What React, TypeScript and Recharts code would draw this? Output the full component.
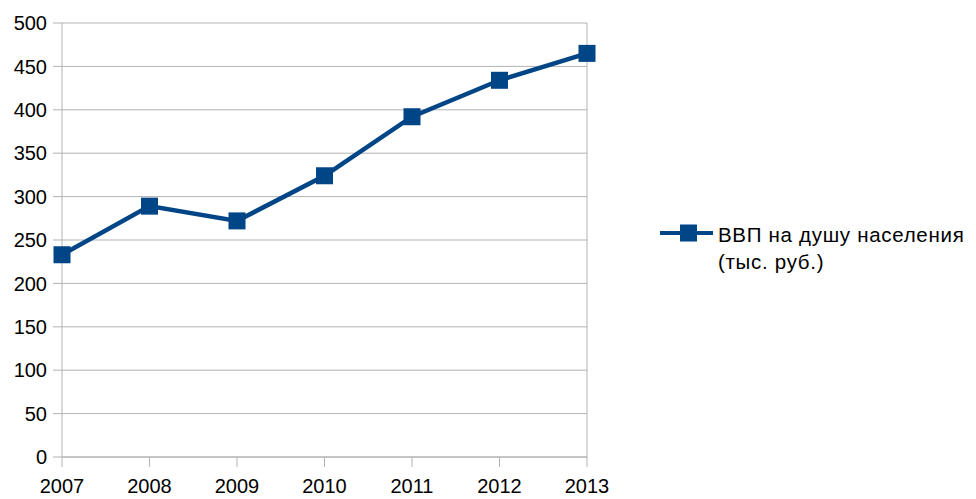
import React from "react";
import {
  LineChart,
  Line,
  XAxis,
  YAxis,
  CartesianGrid,
  ReferenceLine,
} from "recharts";

const years = ["2007", "2008", "2009", "2010", "2011", "2012", "2013"];
const gdpPerCapita = [233, 289, 272, 324, 392, 434, 465];
const yTicks = [0, 50, 100, 150, 200, 250, 300, 350, 400, 450, 500];
const seriesName = "ВВП на душу населения (тыс. руб.)";
const legendLine1 = "ВВП на душу населения";
const legendLine2 = "(тыс. руб.)";

const data = years.map((y, i) => ({ year: y, value: gdpPerCapita[i] }));

const COLOR = "#004586";
const GRID = "#b3b3b3";
const FONT = "'Liberation Sans', Arial, sans-serif";

const SquareDot = (props: any) => {
  const { cx, cy } = props;
  if (cx == null || cy == null) return null;
  const s = 17;
  return <rect x={cx - s / 2} y={cy - s / 2} width={s} height={s} fill={COLOR} />;
};

const LegendBox = () => (
  <div
    style={{
      position: "absolute",
      left: 660,
      top: 223,
      display: "flex",
      alignItems: "flex-start",
      fontFamily: FONT,
      fontSize: 20.5,
      letterSpacing: 0.7,
      color: "#000",
      whiteSpace: "nowrap",
    }}
  >
    <svg width={53} height={20} style={{ flexShrink: 0 }}>
      <line x1={0} y1={10} x2={53} y2={10} stroke={COLOR} strokeWidth={4} />
      <rect x={20} y={1.5} width={17} height={17} fill={COLOR} />
    </svg>
    <div style={{ marginLeft: 5, lineHeight: "27px", marginTop: -2 }}>
      <div>{legendLine1}</div>
      <div>{legendLine2}</div>
    </div>
  </div>
);

export default function App() {
  return (
    <div style={{ position: "absolute", left: 0, top: 0, width: 976, height: 499, background: "#fff" }}>
      <LineChart
        width={976}
        height={499}
        data={data}
        margin={{ top: 23, right: 389, bottom: 0, left: 0 }}
      >
        <CartesianGrid vertical={false} stroke={GRID} strokeWidth={1} />
        <XAxis
          dataKey="year"
          height={42}
          stroke={GRID}
          tickLine={{ stroke: GRID }}
          tickSize={10}
          tickMargin={12}
          tick={{ fill: "#000", fontSize: 20, fontFamily: FONT }}
          interval={0}
        />
        <YAxis
          domain={[0, 500]}
          ticks={yTicks}
          width={62}
          stroke={GRID}
          tickLine={{ stroke: GRID }}
          tickSize={9}
          tickMargin={6}
          tick={{ fill: "#000", fontSize: 20, fontFamily: FONT }}
          interval={0}
        />
        <ReferenceLine x="2013" stroke={GRID} strokeWidth={1} />
        <Line
          type="linear"
          dataKey="value"
          name={seriesName}
          stroke={COLOR}
          strokeWidth={4.5}
          dot={<SquareDot />}
          activeDot={false}
          isAnimationActive={false}
        />
      </LineChart>
      <LegendBox />
    </div>
  );
}
